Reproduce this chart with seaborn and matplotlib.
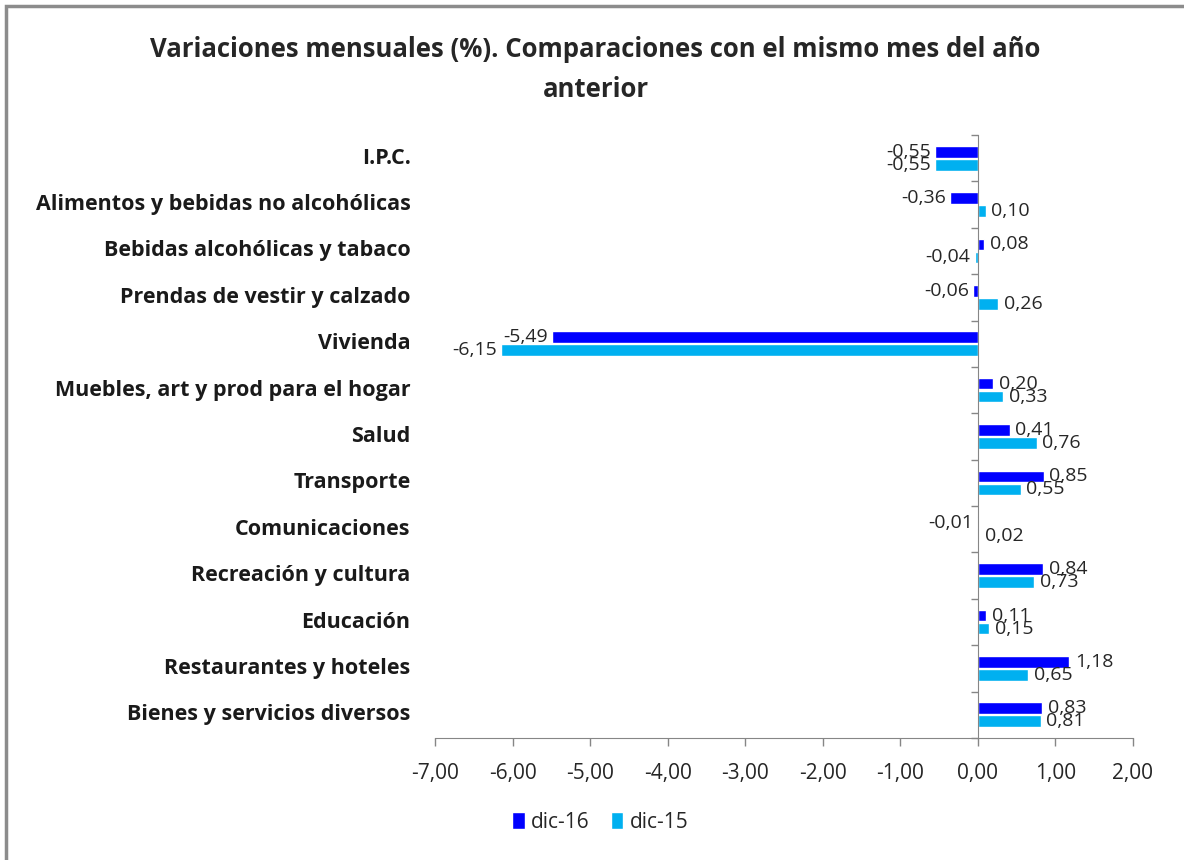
import pandas as pd
import matplotlib.pyplot as plt
import seaborn as sns
from matplotlib.patches import Rectangle

# datos del grafico
categorias = ['I.P.C.', 'Alimentos y bebidas no alcohólicas', 'Bebidas alcohólicas y tabaco',
              'Prendas de vestir y calzado', 'Vivienda', 'Muebles, art y prod para el hogar',
              'Salud', 'Transporte', 'Comunicaciones', 'Recreación y cultura', 'Educación',
              'Restaurantes y hoteles', 'Bienes y servicios diversos']
dic16 = [-0.55, -0.36, 0.08, -0.06, -5.49, 0.20, 0.41, 0.85, -0.01, 0.84, 0.11, 1.18, 0.83]
dic15 = [-0.55, 0.10, -0.04, 0.26, -6.15, 0.33, 0.76, 0.55, 0.02, 0.73, 0.15, 0.65, 0.81]
series = ['dic-16', 'dic-15']
x_ticks = [-7, -6, -5, -4, -3, -2, -1, 0, 1, 2]

df = pd.DataFrame({
    'categoria': categorias * 2,
    'valor': dic16 + dic15,
    'serie': [series[0]] * len(categorias) + [series[1]] * len(categorias),
})

sns.set_style('white')
plt.rcParams['font.family'] = ['Open Sans', 'DejaVu Sans']

fig = plt.figure(figsize=(11.84, 8.60), dpi=100)
ax = fig.add_axes([0.3674, 0.1419, 0.5895, 0.7011])

colores = {'dic-16': '#0000FF', 'dic-15': '#00B0F0'}
sns.barplot(data=df, y='categoria', x='valor', hue='serie', order=categorias,
            hue_order=series, palette=colores, saturation=1, orient='h', width=0.56,
            gap=0.1, ax=ax, legend=True)

ax.set_xlim(-7, 2)
ax.set_ylim(len(categorias) - 0.5, -0.5)
ax.set_xticks(x_ticks)
ax.set_xticklabels([f'{t:.2f}'.replace('.', ',') for t in x_ticks], fontsize=15, color='#262626')
ax.tick_params(axis='x', direction='out', length=6, width=1, color='#868686', pad=12, bottom=True)

# eje vertical en 0 con marcas entre categorias
for s in ['top', 'right']:
    ax.spines[s].set_visible(False)
ax.spines['left'].set_position(('data', 0))
ax.spines['left'].set_color('#868686')
ax.spines['bottom'].set_color('#868686')
ax.set_yticks([i - 0.5 for i in range(len(categorias) + 1)])
ax.set_yticklabels([])
ax.tick_params(axis='y', direction='out', length=5, width=1, color='#868686', left=True)
ax.set_xlabel('')
ax.set_ylabel('')

for i, cat in enumerate(categorias):
    ax.text(-0.035, i, cat, transform=ax.get_yaxis_transform(), ha='right', va='center',
            fontsize=15.5, fontweight='bold', color='#1a1a1a')

# etiquetas de valores
for cont in ax.containers:
    for bar in cont:
        v = bar.get_width()
        yc = bar.get_y() + bar.get_height() / 2
        txt = f'{v:.2f}'.replace('.', ',')
        if v < 0:
            ax.annotate(txt, (v, yc), xytext=(-3, 0), textcoords='offset points',
                        ha='right', va='center', fontsize=14, color='#262626')
        else:
            ax.annotate(txt, (v, yc), xytext=(4, 0), textcoords='offset points',
                        ha='left', va='center', fontsize=14, color='#262626')

ax.legend(loc='center', bbox_to_anchor=(0.507, 0.044), bbox_transform=fig.transFigure,
          ncol=2, frameon=False, fontsize=15, handlelength=0.6, handleheight=0.9,
          handletextpad=0.3, columnspacing=1.0)

fig.suptitle('Variaciones mensuales (%). Comparaciones con el mismo mes del año\nanterior',
             x=0.503, y=0.958, fontsize=18.5, fontweight='bold', linespacing=1.6)

fig.patches.append(Rectangle((6 / 1184, -0.1), 1.2, 1.1 - 6 / 860, transform=fig.transFigure,
                             fill=False, edgecolor='#8c8c8c', linewidth=2.5, figure=fig))

fig.savefig('out.png', dpi=100)
